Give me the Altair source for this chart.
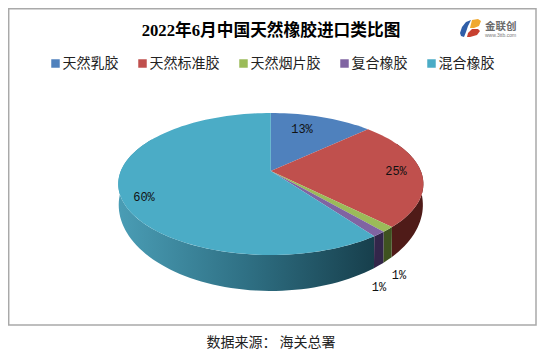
import math
import altair as alt

# ---- data ----
categories = ["天然乳胶", "天然标准胶", "天然烟片胶", "复合橡胶", "混合橡胶"]
values = [13.0, 24.6, 1.2, 1.2, 60.0]
pct_labels = ["13%", "25%", "1%", "1%", "60%"]
top_colors = ["#4f81bd", "#c0504d", "#9bbb59", "#8064a2", "#4bacc6"]
wall_colors = ["#2c4a6e", "#4f1b18", "#3f5220", "#33264a", "#173f4c"]
label_x = [302, 396, 399, 379, 144]
label_y = [129, 171, 275, 287, 197]

title_text = "2022年6月中国天然橡胶进口类比图"
source_text = "数据来源： 海关总署"
logo_text = "金联创"
logo_url = "www.3ttb.com"

# ---- pie geometry (page px) ----
OFF = 8
AX, AY = 270.8, 171.0      # projected pie centre
K, A, B = 0.183, 150.0, 68.6
CX, CYT, RXT, RYT = 270.6, 184.0, 152.5, 71.0
CYB, RXB, RYB = 205.0, 152.0, 86.0


def top_pt(deg):
    r = math.radians(deg)
    d = 1 + K * math.cos(r)
    return (AX + A * math.sin(r) / d, AY - B * math.cos(r) / d)


def bot_pt(deg):
    x, y = top_pt(deg)
    u, v = (x - CX) / RXT, (y - CYT) / RYT
    return (CX + RXB * u, CYB + RYB * v)


def frange(a, b, step=2.0):
    n = max(2, int(abs(b - a) / step) + 1)
    return [a + (b - a) * i / (n - 1) for i in range(n)]


def shift(pts):
    return [[round(x - OFF, 2), round(y - OFF, 2)] for x, y in pts]


def feature(pts, **props):
    ring = shift(pts)
    ring.append(ring[0])
    return {"type": "Feature", "properties": props,
            "geometry": {"type": "Polygon", "coordinates": [ring]}}


top_feats, wall_feats = [], []
cum = 0.0
for name, val, wc in zip(categories, values, wall_colors):
    a0, a1 = cum * 3.6, (cum + val) * 3.6
    cum += val
    top_feats.append(feature([(AX, AY)] + [top_pt(d) for d in frange(a0, a1)], name=name))
    w0, w1 = max(a0, 65.0), min(a1, 300.0)
    if w1 > w0:
        ds = frange(w0, w1)
        wall_feats.append(feature([top_pt(d) for d in ds] + [bot_pt(d) for d in reversed(ds)],
                                  name=name, fill=wc))

proj = dict(type="identity", scale=1, translate=[0, 0])


def geo(feats):
    return alt.Data(values=feats)


def text_layer(rows, **mark):
    return alt.Chart(alt.Data(values=rows)).mark_text(**mark).encode(
        x=alt.X("x:Q", scale=None, axis=None),
        y=alt.Y("y:Q", scale=None, axis=None),
        text="t:N")


# frame
frame = alt.Chart(alt.Data(values=[{"x": 0.7, "x2": 528, "y": 0.7, "y2": 317}])).mark_rect(
    fill="white", stroke="#a9a9a9", strokeWidth=1.5).encode(
    x=alt.X("x:Q", scale=None, axis=None), x2="x2:Q",
    y=alt.Y("y:Q", scale=None, axis=None), y2="y2:Q")

# side walls
teal_wall = alt.Chart(geo([wall_feats[-1]])).mark_geoshape(
    fill=alt.Gradient(gradient="linear", x1=0, x2=1, y1=0, y2=0, stops=[
        alt.GradientStop(offset=0, color="#4a9db5"),
        alt.GradientStop(offset=0.5, color="#2f7084"),
        alt.GradientStop(offset=1, color="#173f4c")]),
    strokeWidth=0).project(**proj)
other_walls = alt.Chart(geo(wall_feats[:-1])).mark_geoshape(strokeWidth=0).encode(
    fill=alt.Fill("properties.fill:N", scale=None, legend=None)).project(**proj)

# top face + legend
top = alt.Chart(geo(top_feats)).mark_geoshape(strokeWidth=0).encode(
    fill=alt.Fill("properties.name:N",
                  scale=alt.Scale(domain=categories, range=top_colors),
                  legend=alt.Legend(title=None, orient="none", legendX=40.5, legendY=48.5,
                                    direction="horizontal", columns=5, columnPadding=17,
                                    symbolType="square", symbolSize=72, symbolStrokeWidth=0,
                                    labelOffset=0, labelFont="Noto Sans CJK SC", labelFontSize=14,
                                    labelColor="#222222", padding=0))).project(**proj)

# logo (decoration)
logo_shapes = [
    feature([(471, 20), (466, 22), (462, 27), (460, 33), (461, 36), (464, 37), (466, 32), (468, 26)], name="b", fill="#2f5ea8"),
    feature([(472, 20), (478, 19), (481, 21), (479, 26), (474, 28), (470, 28)], name="y", fill="#f0a830"),
    feature([(468, 33), (472, 29), (478, 29), (480, 31), (477, 35), (470, 37), (467, 37)], name="r", fill="#c8402f"),
]
logo = alt.Chart(geo(logo_shapes)).mark_geoshape(strokeWidth=0).encode(
    fill=alt.Fill("properties.fill:N", scale=None, legend=None)).project(**proj)

title = text_layer([{"x": 271 - OFF, "y": 30.5 - OFF, "t": title_text}],
                   font="Liberation Serif, Noto Sans CJK SC", fontSize=16.7, fontWeight="bold",
                   color="#000000", align="center", baseline="middle")
source = text_layer([{"x": 271 - OFF, "y": 343 - OFF, "t": source_text}],
                    font="Noto Sans CJK SC", fontSize=14, color="#222222",
                    align="center", baseline="middle")
pcts = text_layer([{"x": x - OFF, "y": y - OFF, "t": t} for x, y, t in zip(label_x, label_y, pct_labels)],
                  font="Liberation Mono", fontSize=12, color="#111111",
                  align="center", baseline="middle")
logo_t1 = text_layer([{"x": 485 - OFF, "y": 27 - OFF, "t": logo_text}],
                     font="Noto Sans CJK SC", fontSize=10.5, fontWeight="bold", color="#6b6b6b",
                     align="left", baseline="middle")
logo_t2 = text_layer([{"x": 485 - OFF, "y": 35 - OFF, "t": logo_url}],
                     font="Liberation Sans", fontSize=5, color="#7a7a7a",
                     align="left", baseline="middle")

chart = alt.layer(frame, teal_wall, other_walls, top, logo, title, source, pcts, logo_t1, logo_t2).resolve_scale(
    fill="independent"
).properties(
    width=529, height=345, padding=0, autosize=alt.AutoSizeParams(type="none"), background="white"
).configure_view(stroke=None)

chart.save("out.html", embed_options={"renderer": "svg", "actions": False})
